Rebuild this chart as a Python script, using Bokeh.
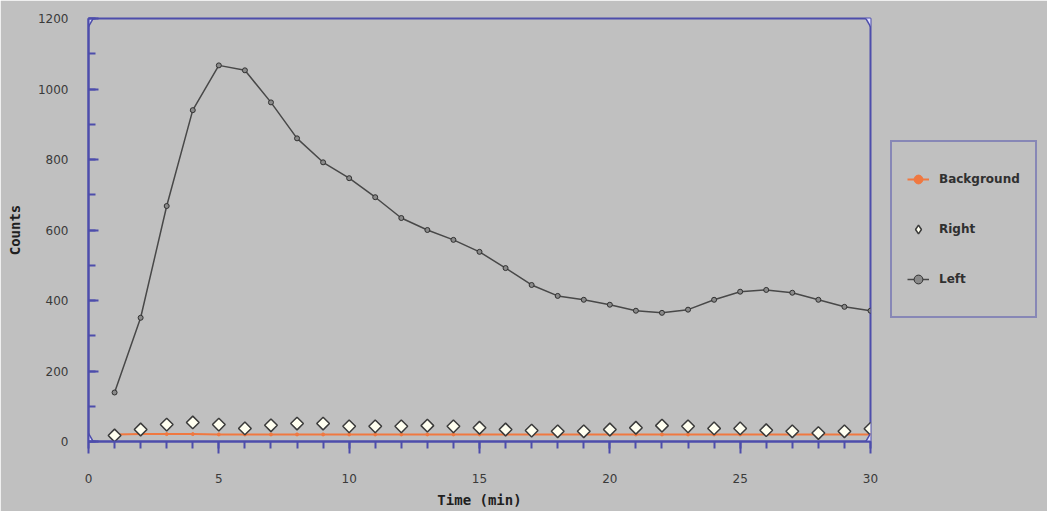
import math
from bokeh.plotting import figure
from bokeh.models import ColumnDataSource, Range1d, SingleIntervalTicker, Legend, LegendItem
from bokeh.embed import file_html
from bokeh.resources import INLINE

# ---- data ----
time_min = list(range(1, 31))
left = [139, 351, 668, 940, 1067, 1053, 962, 860, 792, 747,
        693, 634, 600, 572, 538, 492, 444, 413, 402, 388,
        371, 365, 374, 402, 425, 430, 422, 402, 382, 371]
right = [17, 34, 48, 54, 48, 37, 46, 51, 51, 43,
         43, 43, 45, 43, 39, 34, 31, 29, 29, 34,
         39, 45, 43, 37, 37, 32, 29, 24, 29, 36]
background = [20, 21, 21, 21, 20, 20, 20, 20, 20, 20,
              20, 20, 20, 20, 20, 20, 20, 20, 20, 20,
              20, 20, 20, 20, 20, 20, 20, 20, 20, 20]
x_limits = [0, 30]
y_limits = [0, 1200]

BG = "#c0c0c0"
AX = "#4d4dab"

p = figure(frame_width=782, frame_height=423,
           min_border_left=88, min_border_right=175,
           min_border_top=18, min_border_bottom=70,
           x_range=Range1d(*x_limits), y_range=Range1d(*y_limits),
           output_backend="svg", toolbar_location=None)
p.background_fill_color = BG
p.border_fill_color = BG
p.outline_line_color = AX
p.outline_line_width = 2
p.xgrid.visible = False
p.ygrid.visible = False

src = ColumnDataSource(dict(t=time_min, left=left, right=right, bg=background))

r_bg_line = p.line("t", "bg", source=src, line_color="#f07840", line_width=2)
r_bg_pt = p.scatter("t", "bg", source=src, marker="circle", size=3, fill_color="#f07840", line_color="#f07840")
r_left_line = p.line("t", "left", source=src, line_color="#484848", line_width=1.5)
r_left_pt = p.scatter("t", "left", source=src, marker="circle", size=5, fill_color="#8a8a8a", line_color="#303030")
r_right = p.scatter("t", "right", source=src, marker="square", angle=math.pi / 4, size=9,
                    fill_color="#fffff0", line_color="#3a3a3a", line_width=1.5)
# legend-only proxy (a NaN point, not drawn on the plot) so the legend shows a diamond
r_right_proxy = p.scatter(x=[float("nan")], y=[float("nan")], marker="diamond", fill_color="#fffff0",
                          line_color="#3a3a3a", line_width=1.5)

# corner triangles
p.scatter(x=[x_limits[0], x_limits[1]], y=[y_limits[0], y_limits[0]], marker="triangle", size=14,
          fill_color="#dcdcff", line_color=AX, line_width=1.5)
p.scatter(x=[x_limits[0], x_limits[1]], y=[y_limits[1], y_limits[1]], marker="inverted_triangle", size=14,
          fill_color="#dcdcff", line_color=AX, line_width=1.5)

# axes
xa = p.xaxis[0]
xa.ticker = SingleIntervalTicker(interval=5, num_minor_ticks=5)
xa.axis_line_color = AX
xa.axis_line_width = 2
xa.major_tick_line_color = AX
xa.minor_tick_line_color = AX
xa.major_tick_line_width = 2
xa.minor_tick_line_width = 2
xa.major_tick_in = 0
xa.major_tick_out = 12
xa.minor_tick_in = 0
xa.minor_tick_out = 7
xa.major_label_standoff = 20
xa.major_label_text_font = "DejaVu Sans"
xa.major_label_text_font_size = "12px"
xa.major_label_text_color = "#3a3a3a"
xa.axis_label = "Time (min)"
xa.axis_label_text_font = "DejaVu Sans Mono"
xa.axis_label_text_font_style = "bold"
xa.axis_label_text_font_size = "14px"
xa.axis_label_text_color = "#202020"
xa.axis_label_standoff = 6

ya = p.yaxis[0]
ya.ticker = SingleIntervalTicker(interval=200, num_minor_ticks=2)
ya.axis_line_color = AX
ya.axis_line_width = 2
ya.major_tick_line_color = AX
ya.minor_tick_line_color = AX
ya.major_tick_line_width = 2
ya.minor_tick_line_width = 2
ya.major_tick_in = 10
ya.major_tick_out = 0
ya.minor_tick_in = 7
ya.minor_tick_out = 0
ya.major_label_standoff = 20
ya.major_label_text_font = "DejaVu Sans"
ya.major_label_text_font_size = "12px"
ya.major_label_text_color = "#3a3a3a"
ya.axis_label = "Counts"
ya.axis_label_text_font = "DejaVu Sans Mono"
ya.axis_label_text_font_style = "bold"
ya.axis_label_text_font_size = "14px"
ya.axis_label_text_color = "#202020"
ya.axis_label_standoff = 12

legend = Legend(items=[
    LegendItem(label="Background", renderers=[r_bg_line, r_bg_pt]),
    LegendItem(label="Right", renderers=[r_right_proxy]),
    LegendItem(label="Left", renderers=[r_left_line, r_left_pt]),
], location=(20, 123))
legend.background_fill_color = BG
legend.background_fill_alpha = 1
legend.border_line_color = AX
legend.border_line_width = 2
legend.padding = 15
legend.margin = 0
legend.spacing = 6
legend.glyph_height = 44
legend.label_height = 44
legend.glyph_width = 22
legend.label_standoff = 10
legend.label_text_font = "DejaVu Sans"
legend.label_text_font_style = "bold"
legend.label_text_font_size = "12px"
legend.label_text_color = "#303030"
p.add_layout(legend, "right")

open("out.html", "w").write(file_html(p, INLINE))
